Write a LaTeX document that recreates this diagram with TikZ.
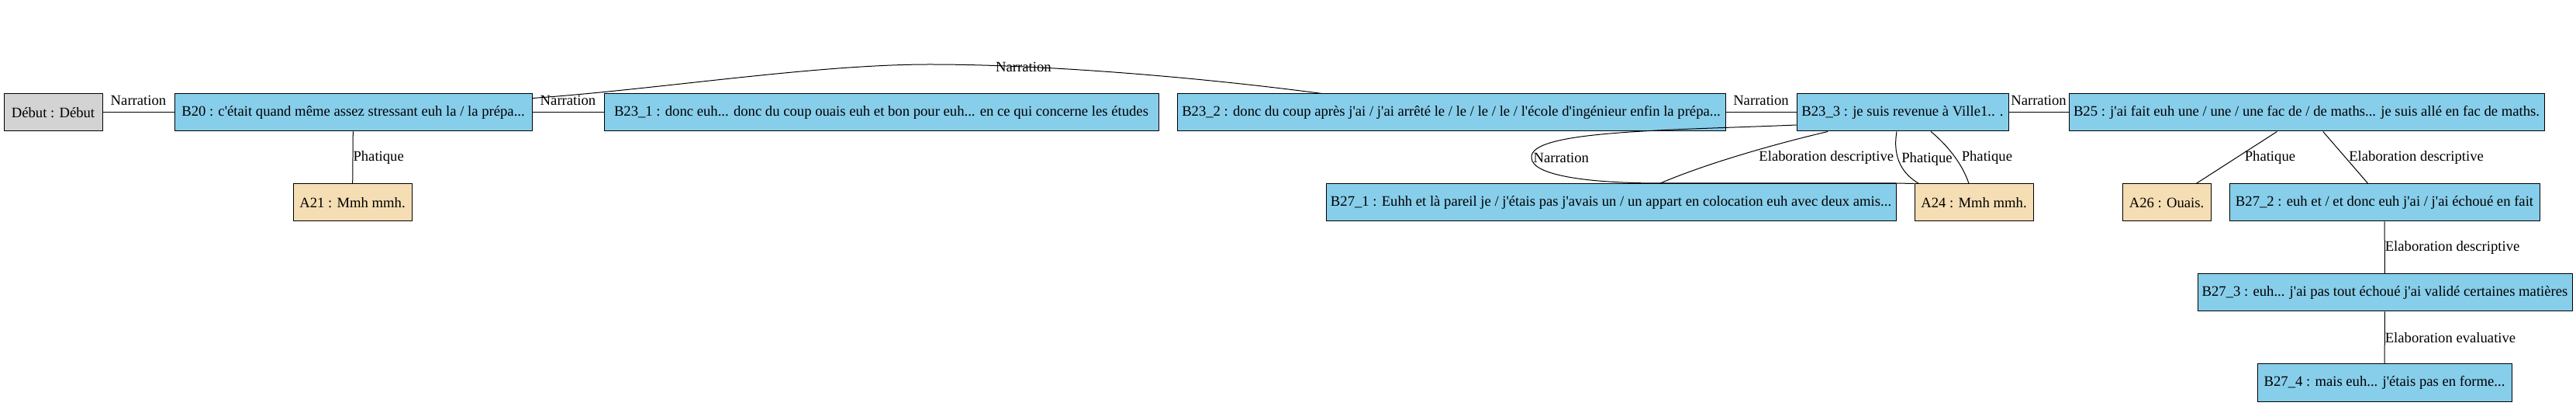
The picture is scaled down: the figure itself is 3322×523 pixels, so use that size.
\documentclass[tikz,border=0pt]{standalone}
\usepackage{fontspec}
\setmainfont{Liberation Serif}[Ligatures=TeXOff]
\usepackage{xcolor}
\usetikzlibrary{calc}

\definecolor{skyblue}{HTML}{87CEEB}
\definecolor{wheat}{HTML}{F5DEB3}
\definecolor{lightgray}{HTML}{D3D3D3}

\begin{document}
\begin{tikzpicture}[
    x=0.75pt, y=-0.75pt,
    box/.style = {draw, line width=0.75pt, minimum height=36pt, inner sep=0pt, font=\fontsize{14}{17}\selectfont},
    speaker/.style = {box, fill=skyblue},
    backchannel/.style = {box, fill=wheat},
    startbox/.style = {box, fill=lightgray},
    link/.style = {line width=0.75pt},
    rel/.style = {font=\fontsize{14}{17}\selectfont, inner sep=0pt}
]
\useasboundingbox (0,0) rectangle (3322,523);

% First row of segments
\node[startbox, minimum width=95.25pt] (debut) at (68.5,145) {Début : Début};
\node[speaker, minimum width=345.75pt] (b20) at (455.5,145) {B20 : c'était quand même assez stressant euh la / la prépa...};
\node[speaker, minimum width=536.25pt] (b231) at (1136.5,145) {B23\_1 : donc euh... donc du coup ouais euh et bon pour euh... en ce qui concerne les études};
\node[speaker, minimum width=530.25pt] (b232) at (1871.5,145) {B23\_2 : donc du coup après j'ai / j'ai arrêté le / le / le / le / l'école d'ingénieur enfin la prépa...};
\node[speaker, minimum width=204.75pt] (b233) at (2453.5,145) {B23\_3 : je suis revenue à Ville1.. .};
\node[speaker, minimum width=459.75pt] (b25) at (2974.5,145) {B25 : j'ai fait euh une / une / une fac de / de maths... je suis allé en fac de maths.};

% Second row
\node[backchannel, minimum width=114.75pt] (a21) at (454.5,261) {A21 : Mmh mmh.};
\node[speaker, minimum width=551.25pt] (b271) at (2077.5,261) {B27\_1 : Euhh et là pareil je / j'étais pas j'avais un / un appart en colocation euh avec deux amis...};
\node[backchannel, minimum width=114.75pt] (a24) at (2545.5,261) {A24 : Mmh mmh.};
\node[backchannel, minimum width=85.5pt] (a26) at (2794,261) {A26 : Ouais.};
\node[speaker, minimum width=300pt] (b272) at (3075,261) {B27\_2 : euh et / et donc euh j'ai / j'ai échoué en fait};

% Last rows
\node[speaker, minimum width=362.25pt] (b273) at (3075.5,377) {B27\_3 : euh... j'ai pas tout échoué j'ai validé certaines matières};
\node[speaker, minimum width=246pt] (b274) at (3075,493) {B27\_4 : mais euh... j'étais pas en forme...};

% Narration chain
\draw[link] (debut) -- (b20) node[rel, midway, above=6.75pt] {Narration};
\draw[link] (b20) -- (b231) node[rel, midway, above=6.75pt] {Narration};
\draw[link] (b232) -- (b233) node[rel, midway, above=6.75pt] {Narration};
\draw[link] (b233) -- (b25) node[rel, midway, above=6.75pt] {Narration};
\draw[link] ($(b20.north east)+(0,6)$) .. controls (850,115) and (1050,83) .. (1199,83)
    .. controls (1350,83) and (1550,100) .. ($(b232.north west)+(187,0)$)
    node[rel, pos=0.25] {Narration};

% Links below B20
\draw[link] (b20) -- (a21) node[rel, midway, right] {Phatique};

% Links below B23_3
\draw[link] ($(b233.west)+(0,16)$) .. controls (2150,168) and (1972,168) .. (1975,203)
    node[rel, anchor=west, xshift=1.5pt] {Narration}
    .. controls (1975,228) and (2060,236) .. (2140,236) -- (2445,236) -- (a24.north west);
\draw[link] ($(b233.south)+(-96.5,0)$) .. controls (2270,190) and (2190,215) .. ($(b271.north)+(62.5,0)$)
    node[rel, pos=0.5, anchor=west, xshift=25pt] {Elaboration descriptive};
\draw[link] ($(b233.south)+(-7.5,0)$) .. controls (2440,205) and (2455,225) .. ($(a24.north west)+(6,0)$)
    node[rel, pos=0.4, anchor=west, xshift=3pt] {Phatique};
\draw[link] ($(b233.south)+(36.5,0)$) .. controls (2515,190) and (2532,215) .. ($(a24.north)+(-6.5,0)$)
    node[rel, pos=0.5, anchor=west, xshift=6pt] {Phatique};

% Links below B25
\draw[link] (b25) -- (a26) node[rel, midway, anchor=west, xshift=7.5pt] {Phatique};
\draw[link] (b25) -- (b272) node[rel, midway, anchor=west, xshift=3pt] {Elaboration descriptive};
\draw[link] (b272) -- (b273) node[rel, midway, right] {Elaboration descriptive};
\draw[link] (b273) -- (b274) node[rel, midway, right] {Elaboration evaluative};

\end{tikzpicture}
\end{document}
